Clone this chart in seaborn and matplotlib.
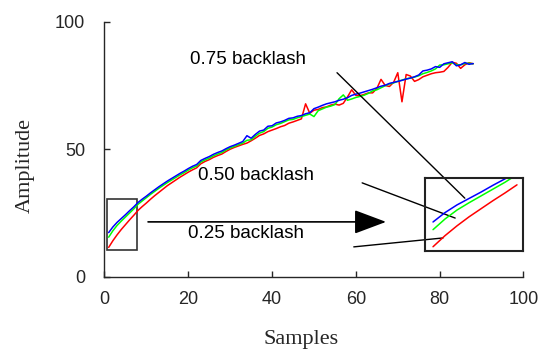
import matplotlib
matplotlib.use("Agg")
import matplotlib.pyplot as plt
from matplotlib.patches import Rectangle
import pandas as pd
import seaborn as sns

# Sample index (x axis)
samples = list(range(1, 89))

# Amplitude per sample for each backlash setting
amp_075 = [17.3, 19.5, 21.3, 22.8, 24.3, 25.9, 27.4, 29.1, 30.4, 31.6, 32.9, 34.1, 35.3, 36.4, 37.5,
           38.5, 39.5, 40.5, 41.4, 42.4, 43.3, 44.0, 45.6, 46.4, 47.1, 48.0, 48.7, 49.3, 50.2, 51.0,
           51.6, 52.3, 53.0, 55.3, 54.3, 55.8, 57.1, 57.5, 59.0, 59.2, 60.3, 60.7, 61.3, 62.1, 62.3,
           62.9, 63.2, 63.9, 64.3, 65.9, 66.5, 67.2, 67.8, 68.2, 68.6, 69.2, 69.6, 70.2, 71.1, 71.6,
           72.0, 72.5, 73.0, 73.5, 74.1, 74.7, 75.1, 75.8, 76.2, 76.6, 77.0, 77.5, 77.9, 78.4, 79.1,
           80.7, 81.0, 81.5, 82.4, 82.1, 83.5, 83.9, 84.3, 82.7, 83.1, 84.0, 83.3, 83.6]
amp_050 = [15.5, 18.0, 20.1, 21.8, 23.4, 25.0, 26.6, 28.4, 29.7, 31.0, 32.3, 33.5, 34.7, 35.8, 36.9,
           37.9, 38.9, 39.9, 40.8, 41.8, 42.7, 43.4, 45.0, 45.8, 46.5, 47.4, 48.1, 48.7, 49.7, 50.5,
           51.1, 51.8, 52.4, 53.5, 53.7, 55.1, 56.3, 56.9, 58.2, 58.7, 59.6, 60.1, 60.8, 61.5, 61.7,
           62.3, 62.8, 63.3, 63.8, 62.8, 65.1, 65.8, 66.5, 66.9, 67.5, 69.8, 71.3, 69.2, 69.7, 70.3,
           70.7, 71.2, 71.9, 72.9, 73.3, 74.1, 74.9, 75.6, 76.0, 76.6, 77.1, 77.6, 77.9, 78.3, 78.8,
           79.6, 80.1, 80.7, 81.5, 83.0, 83.1, 83.5, 83.9, 83.1, 83.1, 83.6, 83.7, 83.5]
amp_025 = [11.5, 14.1, 16.4, 18.5, 20.4, 22.3, 24.1, 26.0, 27.5, 28.9, 30.4, 31.8, 33.1, 34.4, 35.7,
           36.8, 37.9, 39.0, 40.0, 41.0, 41.9, 42.7, 44.3, 45.2, 45.9, 46.8, 47.5, 48.1, 49.1, 50.0,
           50.7, 51.3, 51.9, 52.4, 53.3, 54.3, 55.4, 56.0, 56.9, 57.5, 58.1, 58.8, 59.3, 60.2, 60.7,
           61.3, 61.9, 67.8, 64.1, 65.3, 65.6, 66.3, 66.6, 67.3, 67.7, 67.3, 68.0, 70.5, 73.3, 71.1,
           71.0, 71.5, 72.1, 72.1, 73.8, 77.4, 75.0, 74.6, 76.2, 80.0, 68.6, 79.3, 78.7, 76.6, 77.3,
           78.4, 79.0, 79.6, 80.0, 80.2, 80.5, 82.1, 84.1, 83.7, 81.7, 83.1, 83.9, 83.5]

labels = ["0.25", "0.50", "0.75"]
colors = {"0.25": "#ff0000", "0.50": "#00ff00", "0.75": "#0000ff"}

df = pd.concat([
    pd.DataFrame({"sample": samples, "amplitude": amp_025, "backlash": "0.25"}),
    pd.DataFrame({"sample": samples, "amplitude": amp_050, "backlash": "0.50"}),
    pd.DataFrame({"sample": samples, "amplitude": amp_075, "backlash": "0.75"}),
])

sns.set_theme(style="ticks")
plt.rcParams["font.family"] = ["Liberation Sans", "DejaVu Sans"]

dark = "#262626"
fig = plt.figure(figsize=(5.45, 3.52), dpi=100)
ax = fig.add_axes([0.1917, 0.2139, 0.7688, 0.7244])

sns.lineplot(data=df, x="sample", y="amplitude", hue="backlash", hue_order=labels,
             palette=colors, lw=1.1, errorbar=None, legend=False, ax=ax)

ax.set_xlim(0, 100)
ax.set_ylim(0, 100)
ax.set_xticks([0, 20, 40, 60, 80, 100])
ax.set_yticks([0, 50, 100])
sns.despine(ax=ax)
for s in ["left", "bottom"]:
    ax.spines[s].set_color(dark)
    ax.spines[s].set_linewidth(1.0)
ax.tick_params(axis="both", direction="in", length=4, width=1, colors=dark, labelsize=13)
ax.tick_params(axis="y", pad=14)
ax.tick_params(axis="x", pad=10)

ax.set_xlabel("Samples", fontsize=16, family="Liberation Serif", color=dark)
ax.set_ylabel("Amplitude", fontsize=16, family="Liberation Serif", color=dark)
ax.xaxis.label.set_va("center")
ax.yaxis.label.set_va("center")
ax.xaxis.set_label_coords(0.470, -0.248)
ax.yaxis.set_label_coords(-0.19, 0.436)

# zoom box around the start of the curves
ax.add_patch(Rectangle((0.6, 10.5), 7.15, 20, fill=False, ec="#333333", lw=1.2))

# annotations
ax.text(34.2, 85.2, "0.75 backlash", ha="center", va="center", fontsize=13.5, color="black")
ax.text(36.2, 39.7, "0.50 backlash", ha="center", va="center", fontsize=13.5, color="black")
ax.text(33.8, 16.8, "0.25 backlash", ha="center", va="center", fontsize=13.5, color="black")
ax.plot([55.5, 86.0], [80.0, 30.8], color="black", lw=1)
ax.plot([61.5, 83.7], [36.8, 23.0], color="black", lw=1)
ax.plot([59.5, 80.8], [11.7, 15.2], color="black", lw=1)
ax.annotate("", xy=(67.2, 21.5), xytext=(10.4, 21.5),
            arrowprops=dict(arrowstyle="-|>,head_length=2.0,head_width=0.75",
                            color="black", lw=1.2, shrinkA=0, shrinkB=0, mutation_scale=10))

# inset with the magnified start
ins = fig.add_axes([0.7798, 0.2869, 0.1798, 0.2074])
ins.set_facecolor("none")
sns.lineplot(data=df[df["sample"] <= 8], x="sample", y="amplitude", hue="backlash",
             hue_order=labels, palette=colors, lw=1.1, errorbar=None, legend=False, ax=ins)
ins.set_xlim(0.33, 8.5)
ins.set_ylim(10.5, 27.6)
ins.set_xticks([])
ins.set_yticks([])
ins.set_xlabel("")
ins.set_ylabel("")
for s in ins.spines.values():
    s.set_visible(True)
    s.set_color("#222222")
    s.set_linewidth(1.5)

fig.savefig("out.png", dpi=100)
